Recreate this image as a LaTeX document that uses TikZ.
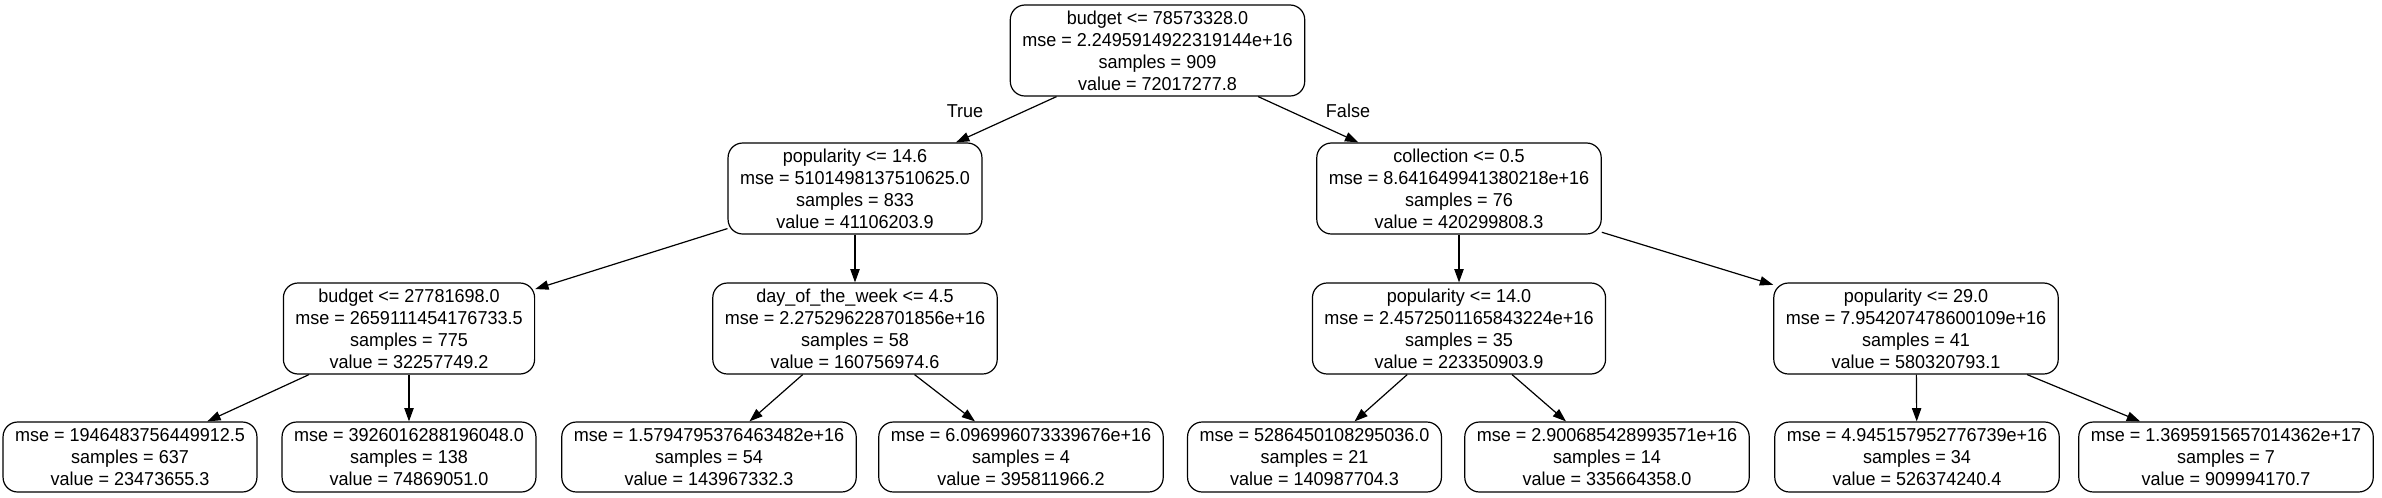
\documentclass[tikz,border=0pt]{standalone}
\usepackage{fontspec}
\setmainfont{Liberation Sans}[FakeStretch=0.965]
\usetikzlibrary{arrows.meta}
\begin{document}
\begin{tikzpicture}[x=0.75pt,y=-0.75pt,
  tnode/.style={draw, line width=0.9pt, rounded corners=11pt, align=center,
    font=\fontsize{14}{16.5}\selectfont, inner xsep=9pt, inner ysep=0pt,
    minimum height=68.25pt},
  leaf/.style={tnode, minimum height=52.5pt},
  edge/.style={draw, line width=0.9pt, -{Triangle[length=10pt,width=7pt]}},
  lab/.style={font=\fontsize{14}{16.5}\selectfont, inner sep=0pt}]
\useasboundingbox (0,0) rectangle (2382,497);
% rank 0
\node[tnode] (n0) at (1157.5,50.5) {budget <= 78573328.0\\mse = 2.2495914922319144e+16\\samples = 909\\value = 72017277.8};
% rank 1
\node[tnode] (n1) at (855,188.5) {popularity <= 14.6\\mse = 5101498137510625.0\\samples = 833\\value = 41106203.9};
\node[tnode] (n2) at (1459,188.5) {collection <= 0.5\\mse = 8.641649941380218e+16\\samples = 76\\value = 420299808.3};
% rank 2
\node[tnode] (n3) at (409,328.5) {budget <= 27781698.0\\mse = 2659111454176733.5\\samples = 775\\value = 32257749.2};
\node[tnode] (n4) at (855,328.5) {day\_of\_the\_week <= 4.5\\mse = 2.275296228701856e+16\\samples = 58\\value = 160756974.6};
\node[tnode] (n5) at (1459,328.5) {popularity <= 14.0\\mse = 2.4572501165843224e+16\\samples = 35\\value = 223350903.9};
\node[tnode] (n6) at (1916,328.5) {popularity <= 29.0\\mse = 7.954207478600109e+16\\samples = 41\\value = 580320793.1};
% leaves
\node[leaf] (l1) at (130,457) {mse = 1946483756449912.5\\samples = 637\\value = 23473655.3};
\node[leaf] (l2) at (409,457) {mse = 3926016288196048.0\\samples = 138\\value = 74869051.0};
\node[leaf] (l3) at (709,457) {mse = 1.5794795376463482e+16\\samples = 54\\value = 143967332.3};
\node[leaf] (l4) at (1021,457) {mse = 6.096996073339676e+16\\samples = 4\\value = 395811966.2};
\node[leaf] (l5) at (1314.5,457) {mse = 5286450108295036.0\\samples = 21\\value = 140987704.3};
\node[leaf] (l6) at (1607,457) {mse = 2.900685428993571e+16\\samples = 14\\value = 335664358.0};
\node[leaf] (l7) at (1917,457) {mse = 4.945157952776739e+16\\samples = 34\\value = 526374240.4};
\node[leaf] (l8) at (2226,457) {mse = 1.3695915657014362e+17\\samples = 7\\value = 909994170.7};
% edges
\draw[edge] (n0) -- (n1);
\draw[edge] (n0) -- (n2);
\draw[edge] (n1) -- (n3);
\draw[edge] (n1) -- (n4);
\draw[edge] (n2) -- (n5);
\draw[edge] (n2) -- (n6);
\draw[edge] (n3) -- (l1);
\draw[edge] (n3) -- (l2);
\draw[edge] (n4) -- (l3);
\draw[edge] (n4) -- (l4);
\draw[edge] (n5) -- (l5);
\draw[edge] (n5) -- (l6);
\draw[edge] (n6) -- (l7);
\draw[edge] (n6) -- (l8);
% edge labels
\node[lab] (tl) at (965,111) {True};
\node[lab] (fl) at (1348,111) {False};
\end{tikzpicture}
\end{document}
